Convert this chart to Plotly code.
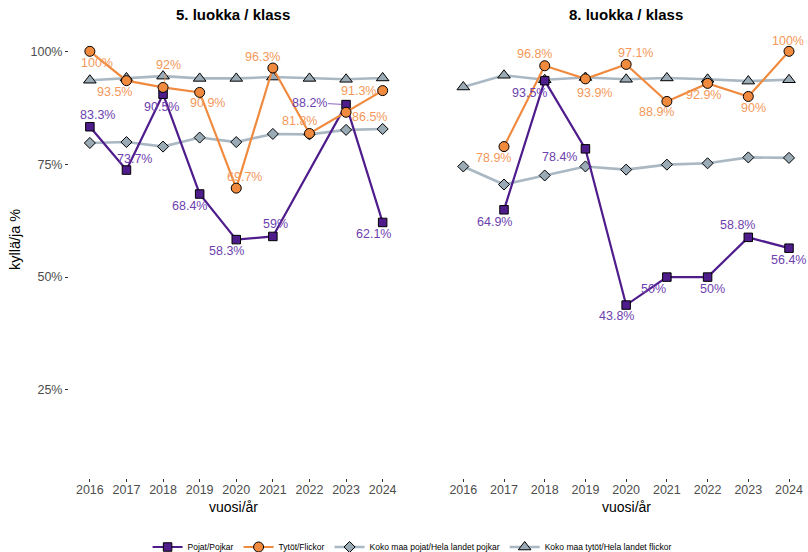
import plotly.graph_objects as go

years = [2016, 2017, 2018, 2019, 2020, 2021, 2022, 2023, 2024]
panel_titles = ["5. luokka / klass", "8. luokka / klass"]
series_names = ["Pojat/Pojkar", "Tytöt/Flickor",
                "Koko maa pojat/Hela landet pojkar", "Koko maa tytöt/Hela landet flickor"]

# 5. luokka
g5_pojat = [83.3, 73.7, 90.5, 68.4, 58.3, 59.0, None, 88.2, 62.1]
g5_tytot = [100.0, 93.5, 92.0, 90.9, 69.7, 96.3, 81.8, 86.5, 91.3]
g5_koko_pojat = [79.7, 79.9, 78.9, 80.9, 79.9, 81.7, 81.6, 82.6, 82.8]
g5_koko_tytot = [93.6, 94.1, 94.5, 94.0, 94.0, 94.3, 94.0, 93.8, 94.1]

# 8. luokka
g8_pojat = [None, 64.9, 93.5, 78.4, 43.8, 50.0, 50.0, 58.8, 56.4]
g8_tytot = [None, 78.9, 96.8, 93.9, 97.1, 88.9, 92.9, 90.0, 100.0]
g8_koko_pojat = [74.5, 70.5, 72.5, 74.5, 73.8, 74.9, 75.2, 76.5, 76.4]
g8_koko_tytot = [92.1, 94.7, 93.7, 94.2, 93.8, 94.1, 93.8, 93.4, 93.7]

y_tick_vals = [25, 50, 75, 100]
y_tick_text = ["25%", "50%", "75%", "100%"]

# label offsets in pixels (dx right, dy down) — styling only
off5_pojat = [(8, -12), (8, -11), (-2, 13), (-10, 12), (-10, 11), (3, -12), None, (-37, -2), (-9, 12)]
off5_tytot = [(7, 12), (-12, 11), (5, -22), (8, 11), (8, -11), (-10, -11), (-10, -12), (23, 5), (-24, 0)]
off8_pojat = [None, (-10, 12), (-15, 12), (-26, 8), (-10, 11), (-13, 12), (5, 12), (-11, -12), (-1, 12)]
off8_tytot = [None, (-11, 11), (-10, -12), (9, 14), (9, -11), (-10, 11), (-4, 12), (5, 12), (-1, -10)]
segment5_tytot = [False, False, True, False, False, False, False, False, False]
segment5_pojat = [False, False, False, False, False, False, False, True, False]

PURPLE = "#4F1C8C"
PURPLE_TXT = "#6E3FAE"
ORANGE = "#F08A3E"
ORANGE_TXT = "#F4985A"
GREY_LINE = "#A9B8C3"
GREY_FILL = "#9BABB6"
FONT = "Liberation Sans, Arial, sans-serif"

fig = go.Figure()

def add_panel(xa, ya, pojat, tytot, kp, kt, showlegend):
    specs = [
        (kp, series_names[2], GREY_LINE, GREY_FILL, "diamond", 8.5, 2.6),
        (kt, series_names[3], GREY_LINE, GREY_FILL, "triangle-up", 11, 2.6),
        (pojat, series_names[0], PURPLE, PURPLE, "square", 8.5, 2.2),
        (tytot, series_names[1], ORANGE, ORANGE, "circle", 10, 2.2),
    ]
    for vals, name, lc, fc, sym, sz, lw in specs:
        fig.add_trace(go.Scatter(
            x=years, y=vals, name=name, mode="lines+markers", connectgaps=True,
            line=dict(color=lc, width=lw),
            marker=dict(symbol=sym, size=sz, color=fc, line=dict(color="black", width=1)),
            xaxis=xa, yaxis=ya, showlegend=showlegend,
            legendrank={series_names[0]: 1, series_names[1]: 2,
                        series_names[2]: 3, series_names[3]: 4}[name],
        ))

add_panel("x", "y", g5_pojat, g5_tytot, g5_koko_pojat, g5_koko_tytot, True)
add_panel("x2", "y2", g8_pojat, g8_tytot, g8_koko_pojat, g8_koko_tytot, False)

annotations = []

def add_labels(xr, yr, vals, offs, color, segs=None):
    for i, (yr_, v) in enumerate(zip(years, vals)):
        if v is None:
            continue
        dx, dy = offs[i]
        txt = f"{v:g}%"
        if segs is not None and segs[i]:
            annotations.append(dict(
                x=yr_, y=v, xref=xr, yref=yr, text=txt, showarrow=True,
                ax=dx, ay=dy, arrowhead=0, arrowwidth=0.8, arrowcolor=color,
                standoff=5, font=dict(size=12.5, color=color, family=FONT)))
        else:
            annotations.append(dict(
                x=yr_, y=v, xref=xr, yref=yr, text=txt, showarrow=False,
                xshift=dx, yshift=-dy, font=dict(size=12.5, color=color, family=FONT)))

add_labels("x", "y", g5_pojat, off5_pojat, PURPLE_TXT, segment5_pojat)
add_labels("x", "y", g5_tytot, off5_tytot, ORANGE_TXT, segment5_tytot)
add_labels("x2", "y2", g8_pojat, off8_pojat, PURPLE_TXT)
add_labels("x2", "y2", g8_tytot, off8_tytot, ORANGE_TXT)

W, H = 808, 552
top, bottom = 31, 478
ph = bottom - top
left_dom = [69 / W, 397.3 / W]
right_dom = [447 / W, 805.3 / W]

def py(pix):
    return (bottom - pix) / ph

for dom, title in zip([left_dom, right_dom], panel_titles):
    cx = (dom[0] + dom[1]) / 2
    annotations.append(dict(x=cx, y=py(15), xref="paper", yref="paper", text=f"<b>{title}</b>",
                            showarrow=False, xanchor="center", yanchor="middle",
                            font=dict(size=15, color="black", family=FONT)))
    annotations.append(dict(x=cx, y=py(507), xref="paper", yref="paper", text="vuosi/år",
                            showarrow=False, xanchor="center", yanchor="middle",
                            font=dict(size=14, color="black", family=FONT)))

annotations.append(dict(x=15 / W, y=py(240), xref="paper", yref="paper", text="kyllä/ja %",
                        showarrow=False, textangle=-90, xanchor="center", yanchor="middle",
                        font=dict(size=14.5, color="black", family=FONT)))

xaxis_common = dict(tickmode="array", tickvals=years, ticktext=[str(y) for y in years],
                    showgrid=False, zeroline=False, showline=False, ticks="outside",
                    ticklen=3, tickcolor="#333333", tickwidth=1, ticklabelstandoff=-3,
                    tickfont=dict(size=12.5, color="#4D4D4D", family=FONT))
yaxis_common = dict(range=[5.5, 104.5], showgrid=False, zeroline=False, showline=False)

fig.update_layout(
    width=W, height=H, template=None,
    paper_bgcolor="white", plot_bgcolor="white",
    margin=dict(l=0, r=0, t=top, b=H - bottom),
    xaxis=dict(domain=left_dom, range=[2015.43, 2024.4], anchor="y", **xaxis_common),
    xaxis2=dict(domain=right_dom, range=[2015.6, 2024.4], anchor="y2", **xaxis_common),
    yaxis=dict(domain=[0, 1], anchor="x", tickmode="array", tickvals=y_tick_vals,
               ticktext=y_tick_text, ticks="outside", ticklen=3, tickcolor="#333333",
               tickfont=dict(size=12.5, color="#4D4D4D", family=FONT), **yaxis_common),
    yaxis2=dict(domain=[0, 1], anchor="x2", showticklabels=False, ticks="", **yaxis_common),
    annotations=annotations,
    showlegend=True,
    legend=dict(orientation="h", x=0.51, xanchor="center", yref="container", y=5 / H,
                yanchor="middle", font=dict(size=8.5, color="black", family=FONT),
                itemwidth=30, tracegroupgap=0, bgcolor="rgba(0,0,0,0)"),
    font=dict(family=FONT),
)

fig.write_html("out.html", config={"displayModeBar": False},
               post_script="document.body.style.margin='0';document.body.style.overflow='hidden';")
